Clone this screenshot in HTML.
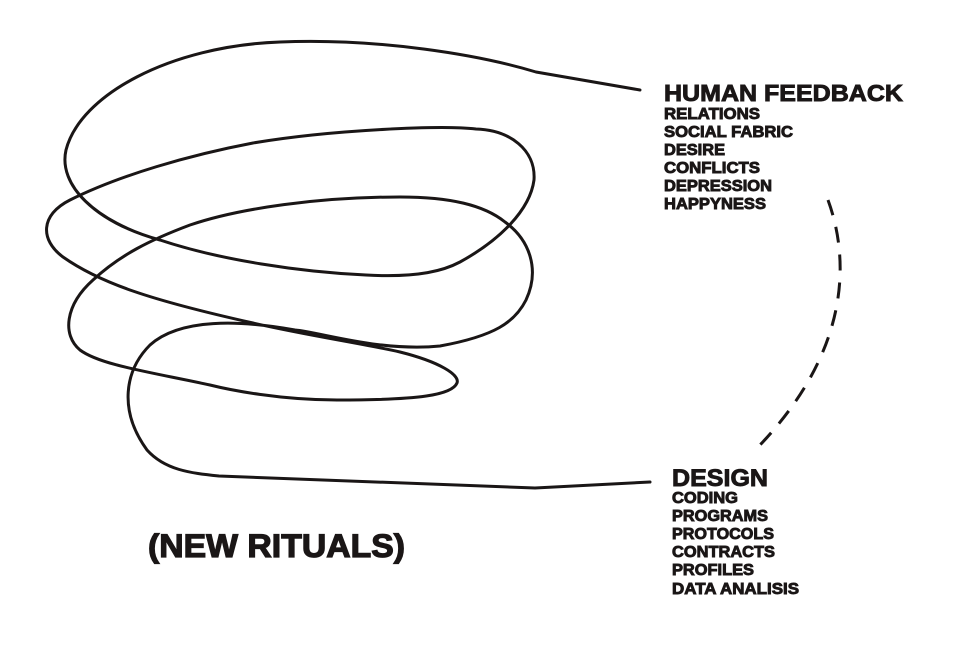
<!DOCTYPE html>
<html><head><meta charset="utf-8"><style>html,body{margin:0;padding:0;background:#fff}svg{display:block}</style></head>
<body>
<svg width="960" height="657" viewBox="0 0 960 657" xmlns="http://www.w3.org/2000/svg">
<rect width="960" height="657" fill="#fff"/>
<path fill="none" stroke="#1a1616" stroke-width="3" stroke-linecap="round" stroke-linejoin="round"
d="M640,90 L536,72 C480,55 380,38 280,42 C170,46 80,95 66,150 C58,185 95,222 160,240 C220,260 300,272 366,275 C420,278 445,270 460,262 C500,240 530,210 534,180 C536,150 510,130 476,129 C440,125 330,130 253,143 C190,155 120,175 70,200 C40,215 40,240 63,257 C100,283 150,300 253,323 C310,336 360,343 400,352 C440,362 460,375 457,383 C452,395 420,400 337,400 C280,400 230,390 210,385 C150,372 100,365 80,350 C62,335 65,305 93,280 C120,255 150,240 190,225 C240,208 320,197 400,197 C450,197 484,205 505,222 C530,240 540,270 526,300 C515,322 495,336 440,346 C380,352 320,332 295,330 C240,320 180,318 150,345 C125,370 118,410 147,450 C165,470 190,473 219,476 L535,488 L650,482"/>
<path fill="none" stroke="#1a1616" stroke-width="3" stroke-dasharray="16,12" d="M828,200 C850,260 850,350 760,445"/>
<g font-family="'Liberation Sans', Arial, sans-serif" font-weight="bold" fill="#1a1616" stroke="#1a1616" stroke-width="0.9">
<text x="664" y="101" font-size="23" textLength="239" lengthAdjust="spacingAndGlyphs">HUMAN FEEDBACK</text>
<text x="664" y="119" font-size="16" textLength="96" lengthAdjust="spacingAndGlyphs">RELATIONS</text>
<text x="664" y="137" font-size="16" textLength="129" lengthAdjust="spacingAndGlyphs">SOCIAL FABRIC</text>
<text x="664" y="155" font-size="16" textLength="61" lengthAdjust="spacingAndGlyphs">DESIRE</text>
<text x="664" y="173" font-size="16" textLength="96" lengthAdjust="spacingAndGlyphs">CONFLICTS</text>
<text x="664" y="191" font-size="16" textLength="108" lengthAdjust="spacingAndGlyphs">DEPRESSION</text>
<text x="664" y="209" font-size="16" textLength="102" lengthAdjust="spacingAndGlyphs">HAPPYNESS</text>
<text x="672" y="486" font-size="24" textLength="96" lengthAdjust="spacingAndGlyphs">DESIGN</text>
<text x="672" y="503" font-size="16" textLength="66" lengthAdjust="spacingAndGlyphs">CODING</text>
<text x="672" y="521" font-size="16" textLength="96" lengthAdjust="spacingAndGlyphs">PROGRAMS</text>
<text x="672" y="539" font-size="16" textLength="102" lengthAdjust="spacingAndGlyphs">PROTOCOLS</text>
<text x="672" y="557" font-size="16" textLength="103" lengthAdjust="spacingAndGlyphs">CONTRACTS</text>
<text x="672" y="575" font-size="16" textLength="82" lengthAdjust="spacingAndGlyphs">PROFILES</text>
<text x="672" y="594" font-size="16" textLength="127" lengthAdjust="spacingAndGlyphs">DATA ANALISIS</text>
<text x="148" y="557" font-size="32" textLength="257" lengthAdjust="spacingAndGlyphs" stroke-width="1.2">(NEW RITUALS)</text>
</g>
</svg>
</body></html>
